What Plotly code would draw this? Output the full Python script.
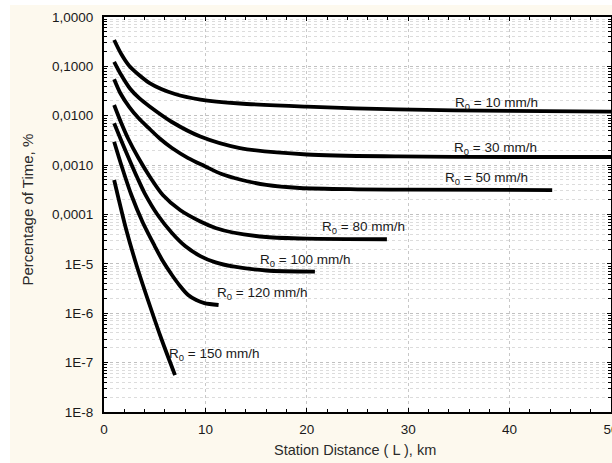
import plotly.graph_objects as go

# Station distance (km) and percentage of time (%) for each rain rate R0
dist_10 = [1.0, 1.7, 2.5, 4.5, 7.0, 9.5, 13.4, 20, 29, 40, 50]
pct_10 = [0.342, 0.178, 0.102, 0.046, 0.0276, 0.0213, 0.0177, 0.0153, 0.0134, 0.0125, 0.0121]

dist_30 = [1.0, 1.7, 2.6, 3.5, 4.5, 6.7, 9.5, 13.4, 20, 29, 40, 50]
pct_30 = [0.124, 0.0669, 0.0348, 0.0224, 0.0154, 0.00747, 0.0038, 0.00222, 0.00164,
          0.0015, 0.00146, 0.00146]

dist_50 = [1.0, 1.6, 2.5, 3.4, 4.4, 5.5, 6.7, 8.3, 9.9, 11.6, 13.4, 16, 19.3, 25, 30, 44.2]
pct_50 = [0.0547, 0.0289, 0.0150, 0.0090, 0.00565, 0.00346, 0.00222, 0.00139, 0.00096,
          0.000661, 0.000512, 0.000396, 0.000344, 0.000324, 0.000319, 0.000313]

dist_80 = [1.0, 1.7, 2.4, 3.4, 4.6, 5.8, 7.5, 9.5, 11, 12.7, 16, 20, 27.9]
pct_80 = [0.0165, 0.00713, 0.00338, 0.00139, 0.000548, 0.000248, 0.000123, 7.21e-5,
          5.33e-5, 4.32e-5, 3.50e-5, 3.24e-5, 3.15e-5]

dist_100 = [1.0, 1.8, 2.6, 3.3, 4.0, 5.3, 6.7, 8.0, 9.5, 11, 12.7, 16, 20.8]
pct_100 = [0.00703, 0.00281, 0.00116, 0.000548, 0.000272, 9.77e-5, 4.22e-5, 2.30e-5,
           1.44e-5, 1.07e-5, 8.85e-6, 7.34e-6, 6.95e-6]

dist_120 = [1.0, 1.8, 2.7, 3.8, 5.0, 5.8, 6.7, 7.5, 8.3, 9.1, 9.9, 11.3]
pct_120 = [0.00298, 0.000875, 0.000248, 7.05e-5, 2.30e-5, 1.14e-5, 5.96e-6, 3.57e-6,
           2.34e-6, 1.85e-6, 1.61e-6, 1.47e-6]

dist_150 = [1.0, 2.2, 3.2, 4.5, 5.7, 7.0]
pct_150 = [0.0005, 4.85e-5, 9.5e-6, 1.47e-6, 2.87e-7, 5.6e-8]

rain_rates = [10, 30, 50, 80, 100, 120, 150]
series = [(dist_10, pct_10), (dist_30, pct_30), (dist_50, pct_50), (dist_80, pct_80),
          (dist_100, pct_100), (dist_120, pct_120), (dist_150, pct_150)]

x_ticks = [0, 10, 20, 30, 40, 50]
y_tickvals = [1, 0.1, 0.01, 0.001, 0.0001, 1e-5, 1e-6, 1e-7, 1e-8]
y_ticktext = ["1,0000", "0,1000", "0,0100", "0,0010", "0,0001", "1E-5", "1E-6", "1E-7", "1E-8"]

# label placement (x in km, y as log10 for the log axis)
label_pos = {10: (34.4, -1.76), 30: (34.3, -2.67), 50: (33.4, -3.28), 80: (21.3, -4.27),
             100: (15.2, -4.94), 120: (10.9, -5.59), 150: (6.2, -6.83)}

fig = go.Figure()
for r, (xs, ys) in zip(rain_rates, series):
    fig.add_trace(go.Scatter(x=xs, y=ys, mode="lines",
                             line=dict(color="black", width=3.8, shape="spline", smoothing=0.8),
                             name=f"R0 = {r} mm/h", hoverinfo="skip"))

FONT = "Liberation Sans, Arial, sans-serif"
for r in rain_rates:
    lx, ly = label_pos[r]
    fig.add_annotation(x=lx, y=ly, xref="x", yref="y", text=f"R<sub>0</sub> = {r} mm/h",
                       showarrow=False, xanchor="left", yanchor="middle",
                       font=dict(family=FONT, size=13.5, color="#1a1a1a"))

W, H = 612, 463
ML, MR, MT, MB = 104, 1, 17, 51
pw = W - ML - MR
ph = H - MT - MB

# white strips at the top and left edge of the cream frame
fig.add_shape(type="rect", xref="paper", yref="paper",
              x0=-ML / pw - 0.01, x1=(10 - ML) / pw, y0=-MB / ph - 0.05, y1=1 + MT / ph + 0.05,
              fillcolor="white", line=dict(width=0), layer="below")
fig.add_shape(type="rect", xref="paper", yref="paper",
              x0=-ML / pw - 0.01, x1=1 + 0.05, y0=1 + (MT - 5) / ph, y1=1 + MT / ph + 0.05,
              fillcolor="white", line=dict(width=0), layer="below")

fig.add_annotation(xref="paper", yref="paper", x=(27 - ML) / pw, y=1 - (209.5 - MT) / ph,
                   text="Percentage of Time, %", textangle=-90, showarrow=False,
                   xanchor="center", yanchor="middle",
                   font=dict(family=FONT, size=15, color="#2a2a2a"))
fig.add_annotation(xref="paper", yref="paper", x=(355 - ML) / pw, y=-(450 - MT - ph) / ph,
                   text="Station Distance ( L ), km", showarrow=False,
                   xanchor="center", yanchor="middle",
                   font=dict(family=FONT, size=14.5, color="#2a2a2a"))

fig.update_layout(
    width=W, height=H, margin=dict(l=ML, r=MR, t=MT, b=MB, pad=0, autoexpand=False),
    paper_bgcolor="#fdf9ee", plot_bgcolor="white", showlegend=False,
    font=dict(family=FONT, size=13.5, color="#1a1a1a"),
    xaxis=dict(range=[0, 50], tickmode="array", tickvals=x_ticks, automargin=False,
               ticks="inside", ticklen=4, tickcolor="black", tickwidth=1,
               showline=True, linecolor="black", linewidth=2, mirror="ticks",
               showgrid=True, gridcolor="#c8c8c8", griddash="dot", gridwidth=1,
               zeroline=False, ticklabelstandoff=4, ticklabeloverflow="allow",
               minor=dict(dtick=2, tick0=0, ticks="inside", ticklen=3, tickcolor="black",
                          showgrid=False)),
    yaxis=dict(type="log", range=[-8, 0], tickmode="array", tickvals=y_tickvals,
               ticktext=y_ticktext, ticks="inside", ticklen=4, tickcolor="black",
               automargin=False,
               showline=True, linecolor="black", linewidth=2, mirror="ticks",
               showgrid=True, gridcolor="#c0c0c0", griddash="dot", gridwidth=1,
               zeroline=False, ticklabelstandoff=6,
               minor=dict(dtick="D1", ticks="inside", ticklen=3, tickcolor="black",
                          showgrid=True, gridcolor="#dcdcdc", griddash="dot", gridwidth=1)),
)

fig.write_html("out.html")
